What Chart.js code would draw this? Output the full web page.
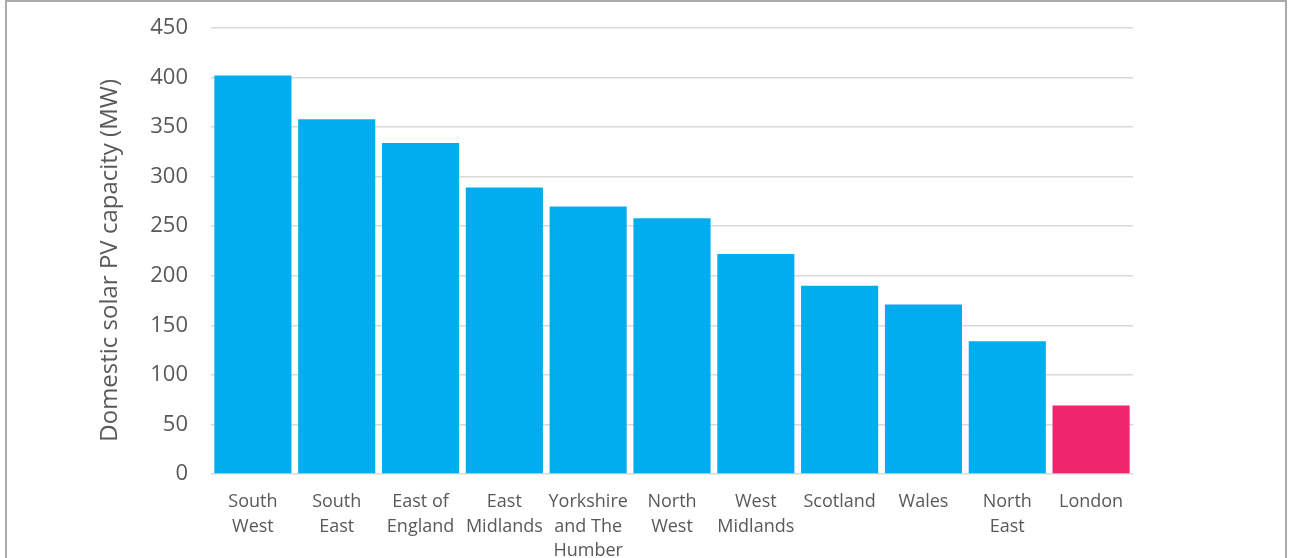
<!DOCTYPE html>
<html>
<head>
<meta charset="utf-8">
<script src="https://cdn.jsdelivr.net/npm/chart.js@4"></script>
<style>
  html, body { margin: 0; padding: 0; background: #fff; }
  #wrap { position: relative; width: 1290px; height: 558px; overflow: hidden; }
  #frame { position: absolute; left: 5px; top: 0px; width: 1282px; height: 600px;
           border: 2px solid #ababab; border-bottom: none; box-sizing: border-box; }
  canvas { position: absolute; left: 0; top: 0; }
</style>
</head>
<body>
<div id="wrap">
  <div id="frame"></div>
  <canvas id="c" width="1290" height="558"></canvas>
</div>
<script>
const categories = [
  ["South", "West"],
  ["South", "East"],
  ["East of", "England"],
  ["East", "Midlands"],
  ["Yorkshire", "and The", "Humber"],
  ["North", "West"],
  ["West", "Midlands"],
  ["Scotland"],
  ["Wales"],
  ["North", "East"],
  ["London"]
];
const capacityMW = [402, 358, 334, 289, 270, 258, 222, 190, 171, 134, 69];
const barColors = ["#00AEEF","#00AEEF","#00AEEF","#00AEEF","#00AEEF","#00AEEF","#00AEEF","#00AEEF","#00AEEF","#00AEEF","#EE266D"];
const yTicks = [0, 50, 100, 150, 200, 250, 300, 350, 400, 450];
const yTitle = "Domestic solar PV capacity (MW)   ";

const FONT = "'Open Sans', 'Noto Sans', sans-serif";
const TEXT = "#595959";

new Chart(document.getElementById("c"), {
  type: "bar",
  data: {
    labels: categories,
    datasets: [{
      data: capacityMW,
      backgroundColor: barColors,
      borderWidth: 0,
      barPercentage: 0.92,
      categoryPercentage: 1.0
    }]
  },
  options: {
    responsive: false,
    animation: false,
    devicePixelRatio: 1,
    layout: { padding: { left: 81, top: 28, right: 157, bottom: 0 } },
    plugins: { legend: { display: false }, tooltip: { enabled: false } },
    scales: {
      x: {
        grid: { display: false },
        border: { display: false },
        ticks: {
          color: TEXT,
          font: { family: FONT, size: 18, lineHeight: 1.35 },
          padding: 8,
          maxRotation: 0,
          autoSkip: false
        },
        afterFit: (s) => { s.height = 84; }
      },
      y: {
        min: 0,
        max: 450,
        afterBuildTicks: (s) => { s.ticks = yTicks.map(v => ({ value: v })); },
        grid: { color: "#d9d9d9", lineWidth: 1.5, drawTicks: true, tickLength: 23, tickColor: "rgba(0,0,0,0)" },
        border: { display: false },
        ticks: {
          color: TEXT,
          font: { family: FONT, size: 22 },
          padding: 0
        },
        title: {
          display: true,
          text: yTitle,
          color: TEXT,
          font: { family: FONT, size: 24, lineHeight: 1.2 },
          padding: { top: 15, bottom: 0 }
        },
        afterFit: (s) => { s.width = 130; }
      }
    }
  }
});
</script>
</body>
</html>
